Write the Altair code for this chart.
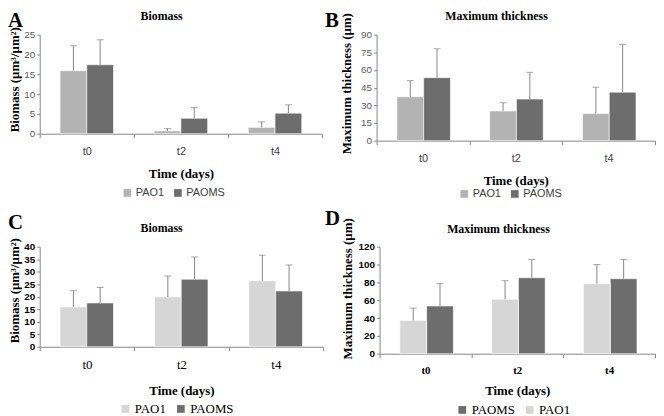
import altair as alt
import pandas as pd

times = ["t0", "t2", "t4"]

# Panel A - Biomass
a_pao1 = [15.9, 0.7, 1.6]
a_pao1_err = [6.3, 0.6, 1.4]
a_paoms = [17.4, 3.9, 5.2]
a_paoms_err = [6.3, 2.7, 2.1]

# Panel B - Maximum thickness
b_pao1 = [37.3, 25.2, 23.0]
b_pao1_err = [13.7, 7.0, 22.4]
b_paoms = [53.5, 35.3, 41.2]
b_paoms_err = [24.5, 22.7, 40.4]

# Panel C - Biomass
c_pao1 = [15.9, 19.9, 26.4]
c_pao1_err = [6.5, 8.4, 10.2]
c_paoms = [17.5, 27.0, 22.3]
c_paoms_err = [6.2, 8.9, 10.4]

# Panel D - Maximum thickness
d_paoms = [53.5, 85.2, 84.1]
d_paoms_err = [25.4, 20.4, 21.5]
d_pao1 = [37.4, 61.1, 78.5]
d_pao1_err = [13.7, 20.8, 21.5]

ERR = "#858585"
SERIF = "Liberation Serif"
SANS = "Liberation Sans"


def make_df(series):
    rows = []
    for name, vals, errs in series:
        for t, v, e in zip(times, vals, errs):
            rows.append({"time": t, "series": name, "value": v, "upper": v + e})
    return pd.DataFrame(rows)


def panel(letter, title, ytitle, series, colors, ymax, ystep, w, h, lx, ly, style,
          letter_pos, title_pos, ytitle_pad, ytitle_y):
    order = [s[0] for s in series]
    df = make_df(series)
    if style == "ab":
        ylab = dict(labelFont=SANS, labelFontSize=10, labelColor="#595959")
        xlab = dict(labelFont=SANS, labelFontSize=11, labelColor="#404040",
                    labelPadding=8, titlePadding=11)
        leg = dict(labelFont=SANS, labelFontSize=11, labelColor="#404040")
    elif style == "c":
        ylab = dict(labelFont=SANS, labelFontSize=10, labelColor="#000000", labelFontWeight="bold")
        xlab = dict(labelFont=SERIF, labelFontSize=13, labelColor="#000000",
                    labelPadding=8, titlePadding=13)
        leg = dict(labelFont=SERIF, labelFontSize=13, labelColor="#000000")
    else:
        ylab = dict(labelFont=SANS, labelFontSize=10, labelColor="#000000", labelFontWeight="bold")
        xlab = dict(labelFont=SERIF, labelFontSize=11, labelColor="#000000", labelFontWeight="bold",
                    labelPadding=7, titlePadding=9)
        leg = dict(labelFont=SERIF, labelFontSize=13, labelColor="#000000")

    yaxis = alt.Axis(
        title=ytitle,
        values=list(range(0, ymax + 1, ystep)),
        grid=False,
        tickSize=3,
        labelPadding=2,
        titlePadding=ytitle_pad,
        titleY=ytitle_y,
        labelOverlap=False,
        **ylab,
    )
    yscale = alt.Scale(domain=[0, ymax], nice=False)

    base = alt.Chart(df).encode(
        x=alt.X(
            "time:N",
            sort=times,
            scale=alt.Scale(paddingInner=0, paddingOuter=0),
            axis=alt.Axis(
                title="Time (days)",
                tickBand="extent",
                labelAngle=0,
                tickSize=4,
                **xlab,
            ),
        ),
        xOffset=alt.XOffset(
            "series:N", sort=order, scale=alt.Scale(paddingInner=0, paddingOuter=0.76)
        ),
    )
    bars = base.mark_bar(stroke="white", strokeWidth=0.6).encode(
        y=alt.Y("value:Q", scale=yscale, axis=yaxis),
        color=alt.Color(
            "series:N",
            sort=order,
            scale=alt.Scale(domain=order, range=colors),
            legend=alt.Legend(
                title=None,
                orient="none",
                legendX=lx,
                legendY=ly,
                direction="horizontal",
                symbolType="square",
                symbolSize=60,
                symbolStrokeWidth=0,
                columnPadding=8,
                labelOffset=3,
                **leg,
            ),
        ),
    )
    rule = base.mark_rule(color=ERR, strokeWidth=1).encode(
        y=alt.Y("value:Q", scale=yscale, axis=yaxis), y2="upper:Q"
    )
    cap = base.mark_tick(color=ERR, thickness=1, size=7).encode(
        y=alt.Y("upper:Q", scale=yscale, axis=yaxis)
    )
    lab = alt.Chart(pd.DataFrame({"l": [letter]})).mark_text(
        align="left", baseline="top", font=SERIF, fontWeight="bold", fontSize=21, color="black"
    ).encode(text="l:N", x=alt.value(letter_pos[0]), y=alt.value(letter_pos[1]))
    ttl = alt.Chart(pd.DataFrame({"t": [title]})).mark_text(
        align="center", baseline="alphabetic", font=SERIF, fontWeight="bold", fontSize=12, color="black"
    ).encode(text="t:N", x=alt.value(title_pos[0]), y=alt.value(title_pos[1]))

    return alt.layer(bars, rule, cap, lab, ttl).properties(width=w, height=h)


pA = panel("A", "Biomass", "Biomass (µm³/µm²)",
           [("PAO1", a_pao1, a_pao1_err), ("PAOMS", a_paoms, a_paoms_err)],
           ["#b3b3b3", "#6d6d6d"], 25, 5, 285, 100, 83, 154, "ab",
           (-32, -25), (123, -15), 2, 45)
pB = panel("B", "Maximum thickness", "Maximum thickness (µm)",
           [("PAO1", b_pao1, b_pao1_err), ("PAOMS", b_paoms, b_paoms_err)],
           ["#b3b3b3", "#6d6d6d"], 90, 15, 281, 107, 83, 155, "ab",
           (-52, -25), (121, -15), 7, 49)
pC = panel("C", "Biomass", "Biomass (µm³/µm²)",
           [("PAO1", c_pao1, c_pao1_err), ("PAOMS", c_paoms, c_paoms_err)],
           ["#d6d6d6", "#6d6d6d"], 40, 5, 286, 101, 80, 157, "c",
           (-32, -35), (123, -15), 2, 44)
pD = panel("D", "Maximum thickness", "Maximum thickness (µm)",
           [("PAOMS", d_paoms, d_paoms_err), ("PAO1", d_pao1, d_pao1_err)],
           ["#6d6d6d", "#d6d6d6"], 120, 20, 278, 108, 77, 158, "d",
           (-55, -39), (120, -14), 4, 42)

row1 = alt.hconcat(pA, pB, spacing=2).resolve_scale(color="independent")
row2 = alt.hconcat(pC, pD, spacing=1).resolve_scale(color="independent")

chart = alt.vconcat(row1, row2, spacing=9).resolve_scale(
    color="independent"
).properties(padding=0).configure_view(stroke=None).configure_axis(
    domainColor="#868686",
    tickColor="#868686",
    titleFont=SERIF,
    titleFontSize=13,
    titleFontWeight="bold",
    titleColor="black",
)

chart.save("out.html", embed_options={"renderer": "svg", "actions": False})
